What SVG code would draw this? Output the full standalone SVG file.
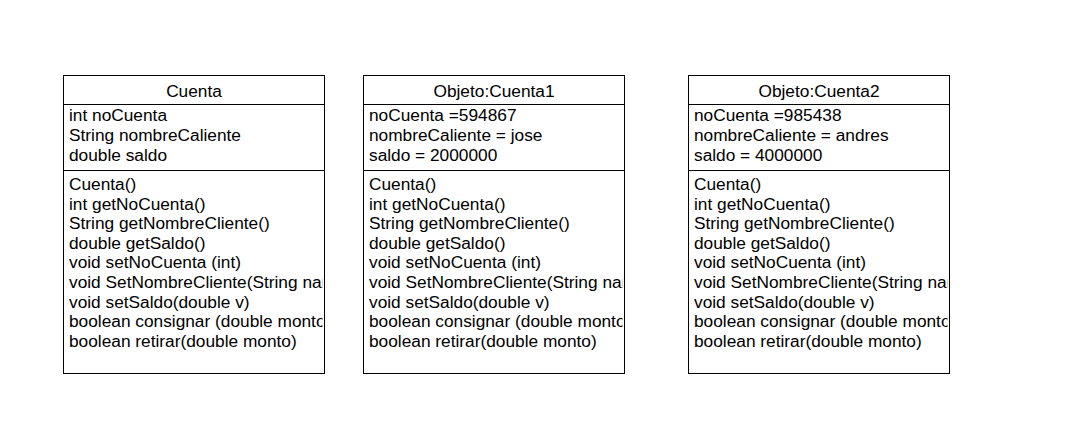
<svg xmlns="http://www.w3.org/2000/svg" width="1065" height="422" viewBox="0 0 1065 422">
<style>
.box{fill:#fff;stroke:#000;stroke-width:1}
.ln{stroke:#000;stroke-width:1}
text{font-family:"Liberation Sans",Arial,sans-serif;font-size:17.3px;fill:#000}
.t{text-anchor:middle}
</style>
<defs>
<clipPath id="c1"><rect x="64" y="76" width="258.5" height="296"/></clipPath>
<clipPath id="c2"><rect x="364" y="76" width="258.5" height="296"/></clipPath>
<clipPath id="c3"><rect x="689" y="76" width="258.5" height="296"/></clipPath>
</defs>
<rect width="1065" height="422" fill="#fff"/>
<g id="cuenta">
<rect class="box" x="63.5" y="75.5" width="261" height="298"/>
<line class="ln" x1="63.5" y1="104.5" x2="324.5" y2="104.5"/>
<line class="ln" x1="63.5" y1="170.5" x2="324.5" y2="170.5"/>
<g clip-path="url(#c1)">
<text class="t" x="194" y="97">Cuenta</text>
<text x="69" y="121">int noCuenta</text>
<text x="69" y="141">String nombreCaliente</text>
<text x="69" y="161">double saldo</text>
<text x="69" y="190">Cuenta()</text>
<text x="69" y="209.6">int getNoCuenta()</text>
<text x="69" y="229.2">String getNombreCliente()</text>
<text x="69" y="248.8">double getSaldo()</text>
<text x="69" y="268.4">void setNoCuenta (int)</text>
<text x="69" y="288">void SetNombreCliente(String nam)</text>
<text x="69" y="307.6">void setSaldo(double v)</text>
<text x="69" y="327.2">boolean consignar (double monto)</text>
<text x="69" y="346.8">boolean retirar(double monto)</text>
</g>
</g>
<g id="cuenta1">
<rect class="box" x="363.5" y="75.5" width="261" height="298"/>
<line class="ln" x1="363.5" y1="104.5" x2="624.5" y2="104.5"/>
<line class="ln" x1="363.5" y1="170.5" x2="624.5" y2="170.5"/>
<g clip-path="url(#c2)">
<text class="t" x="494" y="97">Objeto:Cuenta1</text>
<text x="369" y="121">noCuenta =594867</text>
<text x="369" y="141">nombreCaliente = jose</text>
<text x="369" y="161">saldo = 2000000</text>
<text x="369" y="190">Cuenta()</text>
<text x="369" y="209.6">int getNoCuenta()</text>
<text x="369" y="229.2">String getNombreCliente()</text>
<text x="369" y="248.8">double getSaldo()</text>
<text x="369" y="268.4">void setNoCuenta (int)</text>
<text x="369" y="288">void SetNombreCliente(String nam)</text>
<text x="369" y="307.6">void setSaldo(double v)</text>
<text x="369" y="327.2">boolean consignar (double monto)</text>
<text x="369" y="346.8">boolean retirar(double monto)</text>
</g>
</g>
<g id="cuenta2">
<rect class="box" x="688.5" y="75.5" width="261" height="298"/>
<line class="ln" x1="688.5" y1="104.5" x2="949.5" y2="104.5"/>
<line class="ln" x1="688.5" y1="170.5" x2="949.5" y2="170.5"/>
<g clip-path="url(#c3)">
<text class="t" x="819" y="97">Objeto:Cuenta2</text>
<text x="694" y="121">noCuenta =985438</text>
<text x="694" y="141">nombreCaliente = andres</text>
<text x="694" y="161">saldo = 4000000</text>
<text x="694" y="190">Cuenta()</text>
<text x="694" y="209.6">int getNoCuenta()</text>
<text x="694" y="229.2">String getNombreCliente()</text>
<text x="694" y="248.8">double getSaldo()</text>
<text x="694" y="268.4">void setNoCuenta (int)</text>
<text x="694" y="288">void SetNombreCliente(String nam)</text>
<text x="694" y="307.6">void setSaldo(double v)</text>
<text x="694" y="327.2">boolean consignar (double monto)</text>
<text x="694" y="346.8">boolean retirar(double monto)</text>
</g>
</g>
<g id="connectors"></g>
</svg>
